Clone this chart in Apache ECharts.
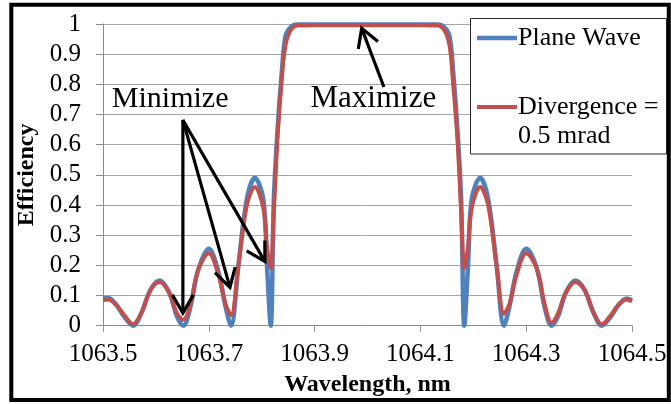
<!DOCTYPE html>
<html>
<head>
<meta charset="utf-8">
<script src="https://cdn.jsdelivr.net/npm/echarts@6/dist/echarts.min.js"></script>
<style>
html,body{margin:0;padding:0;background:#fff;}
#chart{width:671px;height:404px;}
</style>
</head>
<body>
<div id="chart"></div>
<script>
// ---- Data ----
const wavelength = [
  1063.500, 1063.510, 1063.525, 1063.540, 1063.557, 1063.572, 1063.590, 1063.607, 1063.625, 1063.640,
  1063.652, 1063.665, 1063.680, 1063.700, 1063.718, 1063.732, 1063.742, 1063.756, 1063.772, 1063.787,
  1063.803, 1063.810, 1063.817, 1063.823, 1063.830, 1063.838, 1063.845, 1063.855, 1063.868, 1063.900,
  1063.950, 1064.000, 1064.050, 1064.100, 1064.132, 1064.145, 1064.155, 1064.162, 1064.170, 1064.177,
  1064.183, 1064.190, 1064.197, 1064.213, 1064.228, 1064.244, 1064.258, 1064.268, 1064.282, 1064.300,
  1064.320, 1064.335, 1064.348, 1064.360, 1064.375, 1064.393, 1064.410, 1064.428, 1064.443, 1064.460,
  1064.475, 1064.490, 1064.500
];
const planeWave = [
  0.090, 0.092, 0.070, 0.030, 0.000, 0.040, 0.120, 0.150, 0.110, 0.030,
  0.000, 0.060, 0.185, 0.255, 0.180, 0.060, 0.000, 0.200, 0.420, 0.490,
  0.420, 0.200, 0.000, 0.420, 0.650, 0.840, 0.960, 0.990, 0.998, 0.998,
  0.998, 0.998, 0.998, 0.998, 0.998, 0.990, 0.960, 0.840, 0.650, 0.420,
  0.000, 0.200, 0.420, 0.490, 0.420, 0.200, 0.000, 0.060, 0.180, 0.255,
  0.190, 0.060, 0.000, 0.030, 0.110, 0.150, 0.120, 0.040, 0.000, 0.030,
  0.070, 0.090, 0.085
];
const divergence = [
  0.085, 0.087, 0.068, 0.035, 0.005, 0.040, 0.118, 0.145, 0.110, 0.040,
  0.020, 0.070, 0.185, 0.240, 0.170, 0.070, 0.035, 0.200, 0.400, 0.460,
  0.390, 0.260, 0.190, 0.380, 0.630, 0.820, 0.930, 0.980, 0.995, 0.996,
  0.996, 0.996, 0.996, 0.996, 0.995, 0.980, 0.930, 0.800, 0.620, 0.380,
  0.190, 0.260, 0.390, 0.460, 0.400, 0.200, 0.040, 0.070, 0.170, 0.240,
  0.190, 0.070, 0.010, 0.040, 0.110, 0.145, 0.120, 0.040, 0.005, 0.035,
  0.070, 0.087, 0.080
];
const seriesNames = ['Plane Wave', 'Divergence =\n0.5 mrad'];
const xTicks = { min: 1063.5, max: 1064.5, step: 0.2 };
const yTicks = { min: 0, max: 1, step: 0.1 };
const xTitle = 'Wavelength, nm';
const yTitle = 'Efficiency';
const annotations = {
  minimize: { text: 'Minimize', at: [1063.627, 0.752], tail: [1063.651, 0.682],
              tips: [[1063.651, 0.042], [1063.740, 0.127], [1063.806, 0.213]] },
  maximize: { text: 'Maximize', at: [1064.011, 0.752], tail: [1064.031, 0.791], tip: [1063.989, 0.986] }
};

// pick an installed serif face (Times-like first)
function pickFont() {
  const c = document.createElement('canvas').getContext('2d');
  const probe = 'Minimize Wavelength 1063.5 WMi';
  const cands = ['Liberation Serif', 'Times New Roman', 'Tinos', 'Nimbus Roman', 'FreeSerif', 'Noto Serif', 'DejaVu Serif'];
  const bases = ['monospace', 'sans-serif'];
  for (const f of cands) {
    let differs = true;
    for (const b of bases) {
      c.font = '30px ' + b; const w0 = c.measureText(probe).width;
      c.font = '30px "' + f + '", ' + b; const w1 = c.measureText(probe).width;
      if (Math.abs(w0 - w1) < 0.01) { differs = false; break; }
    }
    if (differs) return f;
  }
  return 'serif';
}
const FACE = pickFont();
const FONT = '"' + FACE + '", serif';
const BLUE = '#4F81BD', RED = '#C0504D';

const chart = echarts.init(document.getElementById('chart'), null, { renderer: 'canvas' });

const zip = (xs, ys) => xs.map((x, i) => [x, ys[i]]);

chart.setOption({
  animation: false,
  backgroundColor: '#fff',
  grid: { left: 103, right: 39, top: 24, bottom: 78.3, containLabel: false },
  xAxis: {
    type: 'value', min: xTicks.min, max: xTicks.max, interval: xTicks.step,
    name: xTitle, nameLocation: 'middle', nameGap: 47,
    nameTextStyle: { fontFamily: FONT, fontWeight: 'bold', fontSize: 24, color: '#000' },
    axisLine: { show: true, lineStyle: { color: '#8c8c8c', width: 1 } },
    axisTick: { show: true, length: 6, lineStyle: { color: '#8c8c8c' } },
    axisLabel: { margin: 16, fontFamily: FONT, fontSize: 25, color: '#000',
                 formatter: v => v.toFixed(1) },
    splitLine: { show: false }
  },
  yAxis: {
    type: 'value', min: yTicks.min, max: yTicks.max, interval: yTicks.step,
    name: yTitle, nameLocation: 'middle', nameGap: 62,
    nameTextStyle: { fontFamily: FONT, fontWeight: 'bold', fontSize: 24, color: '#000' },
    axisLine: { show: true, lineStyle: { color: '#8c8c8c', width: 1 } },
    axisTick: { show: true, length: 7, lineStyle: { color: '#8c8c8c' } },
    axisLabel: { margin: 22, fontFamily: FONT, fontSize: 25, color: '#000',
                 formatter: v => String(Math.round(v * 10) / 10) },
    splitLine: { show: true, lineStyle: { color: '#a6a6a6', width: 1 } }
  },
  series: [
    { name: seriesNames[0], type: 'line', data: zip(wavelength, planeWave), smooth: 0.35,
      showSymbol: false, clip: false, lineStyle: { color: BLUE, width: 4.5 }, itemStyle: { color: BLUE }, z: 2 },
    { name: seriesNames[1], type: 'line', data: zip(wavelength, divergence), smooth: 0.35,
      showSymbol: false, clip: false, lineStyle: { color: RED, width: 4 }, itemStyle: { color: RED }, z: 3 }
  ]
});

function arrow(tail, tip, headLen, headAng) {
  const dx = tip[0] - tail[0], dy = tip[1] - tail[1];
  const L = Math.hypot(dx, dy), ux = dx / L, uy = dy / L;
  const rot = a => [-(ux * Math.cos(a) - uy * Math.sin(a)) * headLen, -(ux * Math.sin(a) + uy * Math.cos(a)) * headLen];
  const a1 = rot(headAng), a2 = rot(-headAng);
  const ls = { stroke: '#000', lineWidth: 3.2, lineCap: 'butt', lineJoin: 'miter' };
  return [
    { type: 'line', shape: { x1: tail[0], y1: tail[1], x2: tip[0] - ux * 1.5, y2: tip[1] - uy * 1.5 }, style: ls, z: 50 },
    { type: 'polyline', shape: { points: [[tip[0] + a1[0], tip[1] + a1[1]], tip, [tip[0] + a2[0], tip[1] + a2[1]]] }, style: ls, z: 50 }
  ];
}

const px = p => chart.convertToPixel({ gridIndex: 0 }, p);
const g = [];
const mn = annotations.minimize, mx = annotations.maximize;
const mnTail = px(mn.tail);
mn.tips.forEach(t => g.push(...arrow(mnTail, px(t), 21, Math.PI / 6)));
g.push(...arrow(px(mx.tail), px(mx.tip), 21, Math.PI / 6));
[[mn, 30], [mx, 31]].forEach(([a, fs]) => {
  const p = px(a.at);
  g.push({ type: 'text', x: p[0], y: p[1], z: 50,
    style: { text: a.text, font: fs + 'px ' + FONT, fill: '#000', textAlign: 'center', textVerticalAlign: 'middle' } });
});

// Legend box
g.push({ type: 'rect', shape: { x: 470.5, y: 18.5, width: 196, height: 135.5 },
  style: { fill: '#fff', stroke: '#262626', lineWidth: 1 }, z: 60 });
g.push({ type: 'line', shape: { x1: 477, y1: 38, x2: 517, y2: 38 }, style: { stroke: BLUE, lineWidth: 4.5 }, z: 61 });
g.push({ type: 'line', shape: { x1: 477, y1: 107, x2: 517, y2: 107 }, style: { stroke: RED, lineWidth: 4 }, z: 61 });
const legTexts = [seriesNames[0], ...seriesNames[1].split('\n')];
const legY = [38, 107, 136];
legTexts.forEach((t, i) => g.push({ type: 'text', x: 518, y: legY[i], z: 61,
  style: { text: t, font: '26px ' + FONT, fill: '#000', textAlign: 'left', textVerticalAlign: 'middle' } }));

// Outer frame
g.push({ type: 'rect', shape: { x: 11.3, y: 4.7, width: 657.5, height: 395.3 },
  style: { fill: 'none', stroke: '#000', lineWidth: 4 }, z: 70, silent: true });

chart.setOption({ graphic: g });
</script>
</body>
</html>
